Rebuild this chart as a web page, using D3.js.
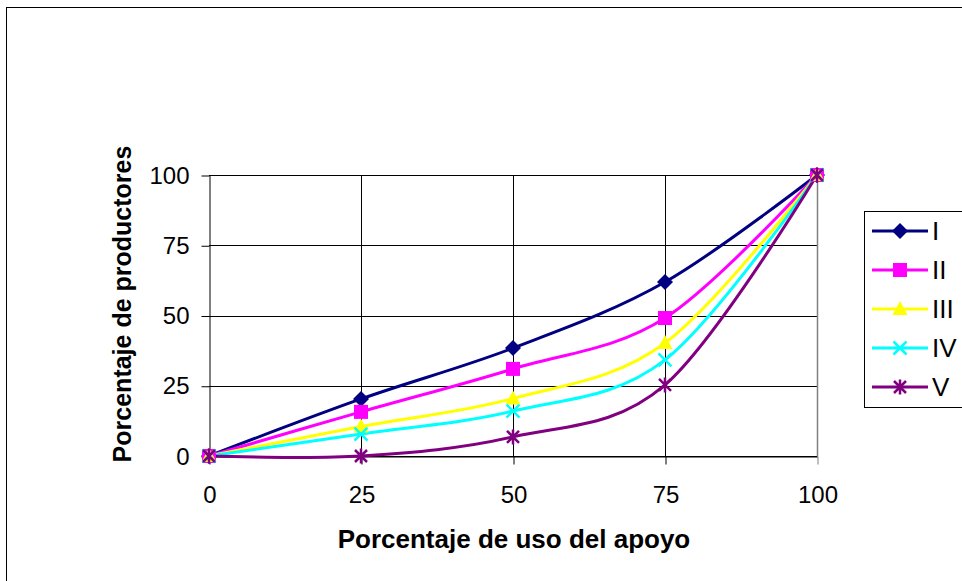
<!DOCTYPE html>
<html><head><meta charset="utf-8">
<script src="https://cdn.jsdelivr.net/npm/d3@7"></script>
<style>body{margin:0;background:#fff;} text{font-family:"Liberation Sans",Arial,sans-serif;}</style>
</head><body>
<svg id="c" width="962" height="581"></svg>
<script>
const xValues = [0, 25, 50, 75, 100];
const seriesNames = ["I", "II", "III", "IV", "V"];
const serI   = [0, 20.3, 38.4, 61.9, 100];
const serII  = [0, 15.7, 31.0, 49.1, 100];
const serIII = [0, 10.5, 20.5, 40.2, 100];
const serIV  = [0, 7.8, 16.0, 34.2, 100];
const serV   = [0, 0.0, 6.8, 25.3, 100];
const yTicks = [0, 25, 50, 75, 100];
const xTicks = [0, 25, 50, 75, 100];
const colors = ["#000080", "#FF00FF", "#FFFF00", "#00FFFF", "#800080"];
const markers = ["diamond", "square", "triangle", "x", "star"];
const seriesData = [serI, serII, serIII, serIV, serV];

const svg = d3.select("#c");
svg.append("rect").attr("x", 6.5).attr("y", 7.5).attr("width", 1000).attr("height", 1000)
  .attr("fill", "#fff").attr("stroke", "#000").attr("stroke-width", 1);

const x = d3.scaleLinear().domain([0, 100]).range([209, 817]);
const y = d3.scaleLinear().domain([0, 100]).range([456, 175]);

const g = svg.append("g");
g.selectAll(".hg").data(yTicks).join("line")
  .attr("x1", 209).attr("x2", 817).attr("y1", d => Math.round(y(d)) + 0.5).attr("y2", d => Math.round(y(d)) + 0.5)
  .attr("stroke", "#000").attr("stroke-width", 1);
g.selectAll(".vg").data(xTicks.slice(1, -1)).join("line")
  .attr("y1", 175).attr("y2", 456).attr("x1", d => Math.round(x(d)) + 0.5).attr("x2", d => Math.round(x(d)) + 0.5)
  .attr("stroke", "#000").attr("stroke-width", 1);
g.append("line").attr("x1", 817.5).attr("x2", 817.5).attr("y1", 175).attr("y2", 456).attr("stroke", "#808080").attr("stroke-width", 1.5);

const ya = d3.axisLeft(y).tickValues(yTicks).tickSize(8).tickPadding(12).tickSizeOuter(0);
const yg = svg.append("g").attr("transform", "translate(209.5,0.5)").call(ya);
const xa = d3.axisBottom(x).tickValues(xTicks).tickSize(8).tickPadding(21).tickSizeOuter(0);
const xg = svg.append("g").attr("transform", "translate(0.5,456.5)").call(xa);
[yg, xg].forEach(a => {
  a.select(".domain").attr("stroke", "#000");
  a.selectAll(".tick line").attr("stroke", "#000");
  a.selectAll(".tick text").attr("fill", "#000").style("font-size", "24px")
    .style("font-family", "'Liberation Sans',Arial,sans-serif");
});
xg.selectAll(".tick").filter(d => d === 100).select("line").attr("stroke", "#808080");

svg.append("text").attr("x", 514).attr("y", 548).attr("text-anchor", "middle")
  .style("font-size", "26px").style("font-weight", "bold").text("Porcentaje de uso del apoyo");
svg.append("text").attr("transform", "translate(131,304) rotate(-90)").attr("text-anchor", "middle")
  .style("font-size", "25px").style("font-weight", "bold").text("Porcentaje de productores");

function drawMarker(sel, type, color) {
  const s = 8;
  if (type === "diamond") sel.append("path").attr("d", `M0,${-s}L${s},0L0,${s}L${-s},0Z`).attr("fill", color);
  else if (type === "square") sel.append("rect").attr("x", -7).attr("y", -7).attr("width", 14).attr("height", 14).attr("fill", color);
  else if (type === "triangle") sel.append("path").attr("d", `M0,-8L7.5,6L-7.5,6Z`).attr("fill", color);
  else if (type === "x") sel.append("path").attr("d", `M-6.5,-6.5L6.5,6.5M-6.5,6.5L6.5,-6.5`).attr("stroke", color).attr("stroke-width", 2.5).attr("fill", "none");
  else if (type === "star") sel.append("path").attr("d", `M-6,-6L6,6M-6,6L6,-6M0,-7.5L0,7.5`).attr("stroke", color).attr("stroke-width", 2.5).attr("fill", "none");
}

const line = d3.line().x((d, i) => x(xValues[i])).y(d => y(d)).curve(d3.curveCatmullRom.alpha(0));
seriesData.forEach((s, k) => {
  svg.append("path").attr("d", line(s)).attr("fill", "none").attr("stroke", colors[k]).attr("stroke-width", 3);
});
seriesData.forEach((s, k) => {
  s.forEach((v, i) => {
    const m = svg.append("g").attr("transform", `translate(${x(xValues[i])},${y(v)})`);
    drawMarker(m, markers[k], colors[k]);
  });
});

svg.append("rect").attr("x", 864.5).attr("y", 211.5).attr("width", 120).attr("height", 196)
  .attr("fill", "#fff").attr("stroke", "#000").attr("stroke-width", 1);
seriesNames.forEach((n, k) => {
  const yy = 231 + k * 39;
  svg.append("line").attr("x1", 872).attr("x2", 928).attr("y1", yy).attr("y2", yy).attr("stroke", colors[k]).attr("stroke-width", 3);
  const m = svg.append("g").attr("transform", `translate(900,${yy})`);
  drawMarker(m, markers[k], colors[k]);
  svg.append("text").attr("x", 932).attr("y", yy + 9).style("font-size", "26px").text(n);
});
</script>
</body></html>
